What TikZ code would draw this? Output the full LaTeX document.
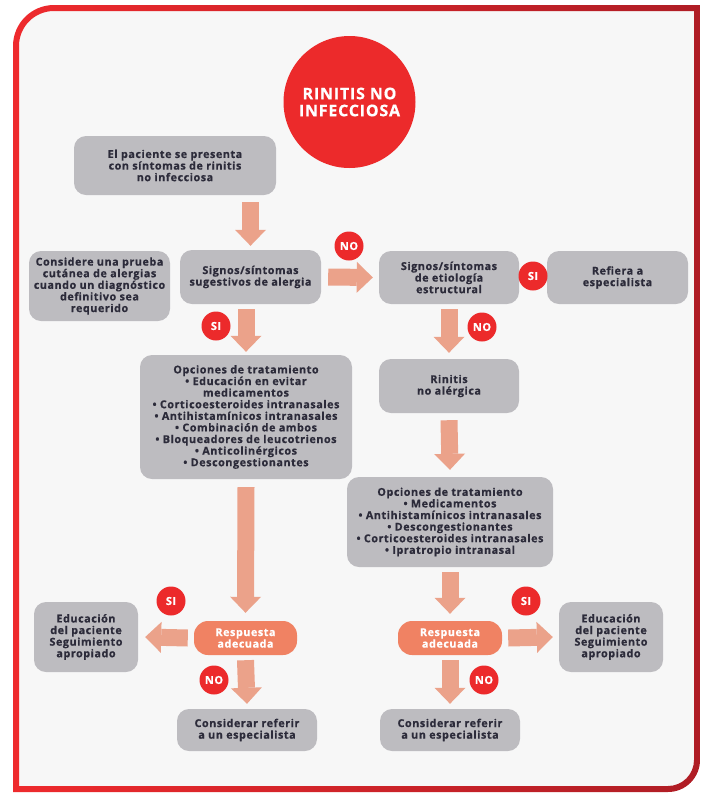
\documentclass[tikz,border=0pt]{standalone}
\usepackage{fontspec}
\setmainfont{Open Sans}[LetterSpace=5, BoldFeatures={FakeBold=0.6}]
\usepackage{xcolor}
\usetikzlibrary{arrows.meta}

\definecolor{cajagris}{HTML}{BDBCC0}
\definecolor{textooscuro}{HTML}{2C2B3A}
\definecolor{rojomarca}{HTML}{EC2A2B}
\definecolor{naranja}{HTML}{F08263}
\definecolor{salmon}{HTML}{EBA28A}
\definecolor{marcoizq}{HTML}{EE2A2D}
\definecolor{marcoder}{HTML}{AF1D25}
\definecolor{fondo}{HTML}{F7F7F7}

\begin{document}
\begin{tikzpicture}[x=1pt,y=-1pt,
  caja/.style={fill=cajagris, rounded corners=12pt, align=center, text=textooscuro, inner sep=0pt, font=\bfseries\fontsize{10.8}{11.6}\selectfont},
  respuesta/.style={caja, fill=naranja, text=white, rounded corners=14pt},
  marca/.style={circle, fill=rojomarca, text=white, minimum size=29pt, inner sep=0pt, font=\bfseries\fontsize{11}{11}\selectfont},
  flechagrande/.style={draw=salmon, line width=17pt, -{Triangle[length=16pt, width=31pt, line width=0pt 0 0]}}
]
\useasboundingbox (0,0) rectangle (703,796);

%Shape: Frame background
\fill[fondo] (19,786) -- (19,46) arc[start angle=180, end angle=270, radius=35] -- (694,11) -- (694,760) arc[start angle=0, end angle=90, radius=26] -- cycle;
%Shape: Frame border
\shade[left color=marcoizq, right color=marcoder, even odd rule]
  (13,792) -- (13,46) arc[start angle=180, end angle=270, radius=41] -- (700,5) -- (700,760) arc[start angle=0, end angle=90, radius=32] -- cycle
  (19,786) -- (19,46) arc[start angle=180, end angle=270, radius=35] -- (694,11) -- (694,760) arc[start angle=0, end angle=90, radius=26] -- cycle;

%Shape: Circle title
\node[circle, fill=rojomarca, minimum size=132pt, inner sep=0pt, text=white, align=center, font=\bfseries\fontsize{16}{17}\selectfont] (titulo) at (349.5,102) {RINITIS NO\\INFECCIOSA};

% Text Node
\node[caja, minimum width=202pt, minimum height=59pt] (inicio) at (175,165.5) {El paciente se presenta\\con síntomas de rinitis\\no infecciosa};
% Text Node
\node[caja, minimum width=141pt, minimum height=70pt] (prueba) at (99.5,286) {Considere una prueba\\cutánea de alergias\\cuando un diagnóstico\\definitivo sea\\requerido};
% Text Node
\node[caja, minimum width=141pt, minimum height=54pt] (alergia) at (250.5,277) {Signos/síntomas\\sugestivos de alergia};
% Text Node
\node[caja, minimum width=140pt, minimum height=53pt] (estructural) at (449,277.5) {Signos/síntomas\\de etiología\\estructural};
% Text Node
\node[caja, minimum width=141pt, minimum height=53pt] (refiera) at (617.5,277.5) {Refiera a\\especialista};
% Text Node
\node[caja, minimum width=140pt, minimum height=54pt] (noalergica) at (449,386) {Rinitis\\no alérgica};
% Text Node
\node[caja, minimum width=212pt, minimum height=124pt] (tratA) at (246,417) {Opciones de tratamiento\\• Educación en evitar\\medicamentos\\• Corticoesteroides intranasales\\• Antihistamínicos intranasales\\• Combinación de ambos\\• Bloqueadores de leucotrienos\\• Anticolinérgicos\\• Descongestionantes};
% Text Node
\node[caja, minimum width=206pt, minimum height=90pt] (tratB) at (450,522) {Opciones de tratamiento\\• Medicamentos\\• Antihistamínicos intranasales\\• Descongestionantes\\• Corticoesteroides intranasales\\• Ipratropio intranasal};
% Text Node
\node[respuesta, minimum width=103pt, minimum height=34pt] (respA) at (245.5,638) {Respuesta\\adecuada};
% Text Node
\node[respuesta, minimum width=104pt, minimum height=34pt] (respB) at (450,638) {Respuesta\\adecuada};
% Text Node
\node[caja, minimum width=104pt, minimum height=70pt] (educA) at (86,637) {Educación\\del paciente\\Seguimiento\\apropiado};
% Text Node
\node[caja, minimum width=104pt, minimum height=70pt] (educB) at (611,637) {Educación\\del paciente\\Seguimiento\\apropiado};
% Text Node
\node[caja, minimum width=140pt, minimum height=42pt] (referirA) at (247,730) {Considerar referir\\a un especialista};
% Text Node
\node[caja, minimum width=140pt, minimum height=42pt] (referirB) at (450,730) {Considerar referir\\a un especialista};

%Block arrows
\draw[flechagrande] ([yshift=-7pt]inicio.south -| alergia) -- ([yshift=4pt]alergia.north);
\draw[flechagrande] ([xshift=7pt]alergia.east) -- ([xshift=-6pt]estructural.west);
\draw[flechagrande] ([yshift=-5pt]estructural.south) -- ([yshift=6pt]noalergica.north);
\draw[flechagrande] ([yshift=-5pt]alergia.south -| tratA) -- ([yshift=3pt]tratA.north);
\draw[flechagrande] ([yshift=-8pt]tratA.south) -- ([yshift=8pt]respA.north);
\draw[flechagrande] ([yshift=-7pt]noalergica.south) -- ([yshift=7pt]tratB.north);
\draw[flechagrande] ([yshift=-5pt]tratB.south) -- ([yshift=7pt]respB.north);
\draw[flechagrande] ([xshift=-6pt]respA.west) -- ([xshift=7pt]educA.east);
\draw[flechagrande] ([xshift=6pt]respB.east) -- ([xshift=-6pt]educB.west);
\draw[flechagrande] ([yshift=-5pt]respA.south) -- ([yshift=5pt]referirA.north);
\draw[flechagrande] ([yshift=-5pt]respB.south) -- ([yshift=5pt]referirB.north);

%Shape: Badges
\node[marca] (noA) at (349,246) {NO};
\node[marca] (siA) at (216,326) {SI};
\node[marca] (siB) at (533,276) {SI};
\node[marca] (noB) at (482,327) {NO};
\node[marca] (siC) at (171,601) {SI};
\node[marca] (noC) at (214,680) {NO};
\node[marca] (siD) at (526,601) {SI};
\node[marca] (noD) at (484,680) {NO};

\end{tikzpicture}
\end{document}
